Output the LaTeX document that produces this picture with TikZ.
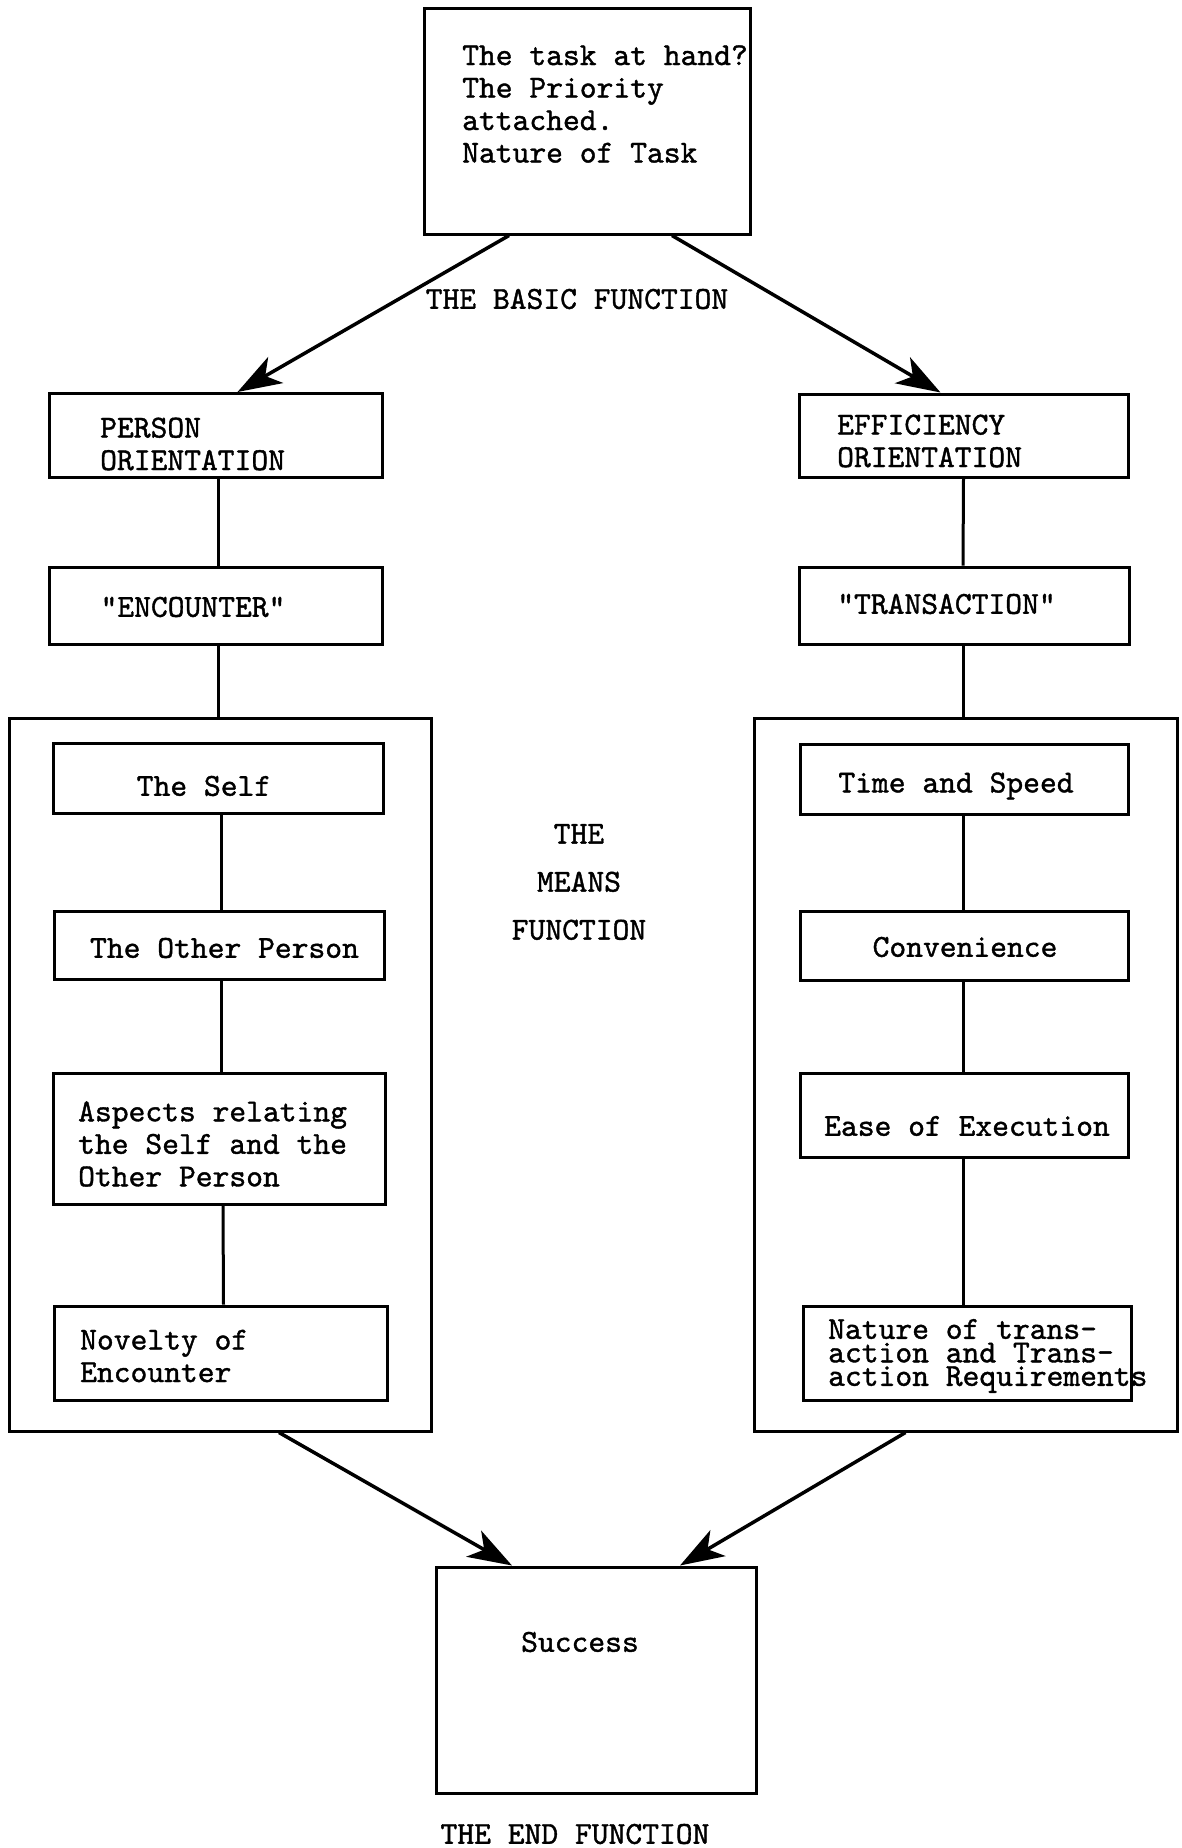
\documentclass[tikz,border=0pt]{standalone}
\usepackage{fontspec}
\usetikzlibrary{arrows.meta}
% typewriter face, slightly emboldened
\newfontfamily\typewriter{lmmono10-regular}[Extension=.otf, FakeBold=1.2]
\newcommand\tightlines{\lineskiplimit=-60pt\relax}
\begin{document}
\begin{tikzpicture}[x=1pt,y=-1pt,
  box/.style={draw, line width=3pt, inner sep=0pt},
  txt/.style={font=\typewriter\fontsize{32}{32.5}\selectfont, inner sep=0pt, align=left},
  tighttxt/.style={font=\typewriter\fontsize{32}{23.5}\selectfont\tightlines, inner sep=0pt, align=left},
  link/.style={line width=3pt},
  flow/.style={line width=3.5pt, -{Stealth[length=44pt,width=30pt,inset=12pt]}}]
\useasboundingbox (0,0) rectangle (1182,1848);

% the task box at the top
\node[box, minimum width=326pt, minimum height=226pt] (task) at (587,121) {};
\node[txt, anchor=west] (tasktxt) at (462,104) {The task at hand?\\The Priority\\attached.\\Nature of Task};
\node[txt] (basic) at (577,299) {THE BASIC FUNCTION};

% left branch: person orientation
\node[box, minimum width=333pt, minimum height=84pt] (person) at (215.5,435.5) {};
\node[txt, anchor=west] (persontxt) at (100,444) {PERSON\\ORIENTATION};
\node[box, minimum width=333pt, minimum height=77pt] (enc) at (215.5,605.5) {};
\node[txt] (enctxt) at (193,607) {"ENCOUNTER"};

% right branch: efficiency orientation
\node[box, minimum width=329pt, minimum height=83pt] (eff) at (963.5,435.5) {};
\node[txt, anchor=west] (efftxt) at (837,441) {EFFICIENCY\\ORIENTATION};
\node[box, minimum width=330pt, minimum height=77pt] (trans) at (964,605.5) {};
\node[txt] (transtxt) at (946.5,604) {"TRANSACTION"};

% means function frames
\node[box, minimum width=422pt, minimum height=713pt] (lbig) at (220,1074.5) {};
\node[box, minimum width=423pt, minimum height=713pt] (rbig) at (965.5,1074.5) {};

% left frame contents
\node[box, minimum width=330pt, minimum height=70pt] (self) at (218,778) {};
\node[txt] (selftxt) at (204,786) {The Self};
\node[box, minimum width=330pt, minimum height=68pt] (other) at (219,945) {};
\node[txt] (othertxt) at (224.5,948) {The Other Person};
\node[box, minimum width=332pt, minimum height=131pt] (aspects) at (219,1138.5) {};
\node[txt, anchor=west] (aspectstxt) at (78,1144) {Aspects relating\\the Self and the\\Other Person};
\node[box, minimum width=333pt, minimum height=94pt] (novelty) at (220.5,1353) {};
\node[txt, anchor=west] (noveltytxt) at (80,1356) {Novelty of\\Encounter};

% right frame contents
\node[box, minimum width=328pt, minimum height=70pt] (time) at (964,779) {};
\node[txt] (timetxt) at (956,786) {Time and Speed};
\node[box, minimum width=328pt, minimum height=69pt] (conv) at (964,945.5) {};
\node[txt] (convtxt) at (965,947) {Convenience};
\node[box, minimum width=328pt, minimum height=84pt] (ease) at (964,1115) {};
\node[txt] (easetxt) at (967,1126) {Ease of Execution};
\node[box, minimum width=328pt, minimum height=94pt] (nature) at (967,1353) {};
\node[tighttxt, anchor=west] (naturetxt) at (828,1356) {Nature of trans-\\action and Trans-\\action Requirements};

\node[txt, align=center, font=\typewriter\fontsize{32}{48}\selectfont] (means) at (579,882) {THE\\MEANS\\FUNCTION};

% the end box
\node[box, minimum width=320pt, minimum height=226pt] (success) at (596,1680) {};
\node[txt] (successtxt) at (580,1642) {Success};
\node[txt] (endfn) at (575,1834) {THE END FUNCTION};

% arrows from the task box
\draw[flow] ([xshift=-78pt]task.south) -- ([xshift=22pt]person.north);
\draw[flow] ([xshift=85pt]task.south) -- ([xshift=-23pt]eff.north);

% vertical links, left side
\draw[link] ([xshift=2.5pt]person.south) -- ([xshift=2.5pt]enc.north);
\draw[link] ([xshift=2.5pt]enc.south) -- ([xshift=-2pt]lbig.north);
\draw[link] ([xshift=3pt]self.south) -- ([xshift=2pt]other.north);
\draw[link] ([xshift=2pt]other.south) -- ([xshift=2pt]aspects.north);
\draw[link] ([xshift=4pt]aspects.south) -- ([xshift=3pt]novelty.north);

% vertical links, right side
\draw[link] (eff.south) -- ([xshift=-1pt]trans.north);
\draw[link] ([xshift=-1pt]trans.south) -- ([xshift=-2.5pt]rbig.north);
\draw[link] ([xshift=-1pt]time.south) -- ([xshift=-1pt]conv.north);
\draw[link] ([xshift=-1pt]conv.south) -- ([xshift=-1pt]ease.north);
\draw[link] ([xshift=-1pt]ease.south) -- ([xshift=-4pt]nature.north);

% arrows into the end box
\draw[flow] ([xshift=59pt]lbig.south) -- ([xshift=-84pt]success.north);
\draw[flow] ([xshift=-60pt]rbig.south) -- ([xshift=84pt]success.north);
\end{tikzpicture}
\end{document}
